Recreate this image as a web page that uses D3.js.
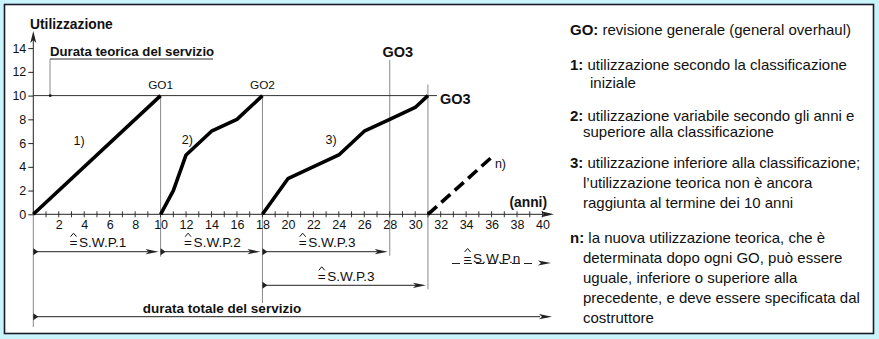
<!DOCTYPE html>
<html>
<head>
<meta charset="utf-8">
<script src="https://cdn.jsdelivr.net/npm/d3@7"></script>
<style>
  html, body { margin: 0; padding: 0; background: #c9f4fc; }
  svg { display: block; }
  text { font-family: "Liberation Sans", Arial, Helvetica, sans-serif; fill: #111; }
</style>
</head>
<body>
<svg id="chart" width="879" height="339"></svg>
<script>
// ---------------- data ----------------
const yTickValues = [0, 2, 4, 6, 8, 10, 12, 14];
const xTickLabels = [2, 4, 6, 8, 10, 12, 14, 16, 18, 20, 22, 24, 26, 28, 30, 32, 34, 36, 38, 40];
const xMinorTicks = d3.range(1, 41);

const curve1 = [[0, 0], [10, 10]];
const curve2 = [[10, 0], [11, 2], [12, 5], [14, 7], [16, 8], [18, 10]];
const curve3 = [[18, 0], [20, 3], [24, 5], [26, 7], [28, 8], [30, 9], [31, 10]];
const curveN = [[31, 0], [36, 4.8]];
const curveNames = ["1)", "2)", "3)", "n)"];

const theoreticalUse = 10;
const goYears = [10, 18, 31];
const goNames = ["GO1", "GO2", "GO3"];
const go3TheoryYear = 28;

const swpNames = ["S.W.P.1", "S.W.P.2", "S.W.P.3", "S.W.P.3"];
const swpFrom = [0, 10, 18, 18];
const swpTo = [10, 18, 28, 31];
const swpRow = [0, 0, 0, 1];

const legendLines = [
  { b: "GO:", t: " revisione generale (general overhaul)" },
  { b: "1:", t: " utilizzazione secondo la classificazione" },
  { b: "", t: "iniziale", indent: 2 },
  { b: "2:", t: " utilizzazione variabile secondo gli anni e" },
  { b: "", t: "superiore alla classificazione", indent: 1 },
  { b: "3:", t: " utilizzazione inferiore alla classificazione;" },
  { b: "", t: "l\u2019utilizzazione teorica non è ancora", indent: 1 },
  { b: "", t: "raggiunta al termine dei 10 anni", indent: 1 },
  { b: "n:", t: " la nuova utilizzazione teorica, che è" },
  { b: "", t: "determinata dopo ogni GO, può essere", indent: 1 },
  { b: "", t: "uguale, inferiore o superiore alla", indent: 1 },
  { b: "", t: "precedente, e deve essere specificata dal", indent: 1 },
  { b: "", t: "costruttore", indent: 1 }
];
const legendBaselines = [35, 70, 88, 121, 137, 168, 188, 208, 243, 263, 283, 303, 323];

// ---------------- layout ----------------
const svg = d3.select("#chart");
const x = d3.scaleLinear().domain([0, 40]).range([33.3, 542.5]);
const y = d3.scaleLinear().domain([0, 10]).range([214.3, 95.6]);
const dark = "#222";
const grey = "#8a8a8a";
const FONT = '"Liberation Sans", Arial, sans-serif';

// panel
svg.append("rect").attr("x", 4.5).attr("y", 4.5).attr("width", 869).attr("height", 329)
  .attr("fill", "#fff").attr("stroke", "#1b1b2b").attr("stroke-width", 1.6);

function arrowRight(g, tx, ty, len, hw) {
  g.append("path").attr("d", `M${tx},${ty} L${tx - len},${ty - hw} L${tx - len + 3},${ty} L${tx - len},${ty + hw} Z`).attr("fill", dark);
}
function tailRight(g, sx, sy) {
  g.append("path").attr("d", `M${sx},${sy - 3.5} L${sx + 5},${sy} L${sx},${sy + 3.5} Z`).attr("fill", dark);
}

const g = svg.append("g");

// lower rows y positions
const rowY = [251.7, 285.3];
const nRowY = 263;
const totalY = 316.7;

// vertical reference lines
g.append("line").attr("x1", x(0)).attr("x2", x(0)).attr("y1", y(0)).attr("y2", 327).attr("stroke", grey);
const goBottoms = [rowY[0] + 5, 303, rowY[1] + 4];
goYears.forEach((yr, i) => {
  g.append("line").attr("x1", x(yr)).attr("x2", x(yr))
    .attr("y1", i === 2 ? y(theoreticalUse) - 11 : y(theoreticalUse)).attr("y2", goBottoms[i])
    .attr("stroke", grey).attr("stroke-width", 1);
});
g.append("line").attr("x1", x(go3TheoryYear)).attr("x2", x(go3TheoryYear))
  .attr("y1", 60).attr("y2", rowY[0] + 4).attr("stroke", grey);

// theoretical use horizontal line
g.append("line").attr("x1", x(0)).attr("x2", x(31) + 9).attr("y1", y(theoreticalUse)).attr("y2", y(theoreticalUse))
  .attr("stroke", "#333").attr("stroke-width", 1);

// Durata teorica del servizio
g.append("text").attr("x", 50).attr("y", 55.5).attr("font-weight", "bold").attr("font-size", 13.2)
  .text("Durata teorica del servizio");
g.append("line").attr("x1", 50).attr("x2", 213).attr("y1", 59).attr("y2", 59).attr("stroke", "#333");
g.append("line").attr("x1", 50).attr("x2", 50).attr("y1", 59).attr("y2", y(theoreticalUse)).attr("stroke", grey);
g.append("rect").attr("x", 49).attr("y", y(theoreticalUse) - 1.2).attr("width", 2.4).attr("height", 2.4).attr("fill", "#111");

// y axis
g.append("line").attr("x1", x(0)).attr("x2", x(0)).attr("y1", y(0)).attr("y2", 40).attr("stroke", dark);
g.append("path").attr("d", `M${x(0)},31 L${x(0) - 3},43 L${x(0)},40 L${x(0) + 3},43 Z`).attr("fill", dark);
const yAxis = d3.axisLeft(y).tickValues(yTickValues).tickSize(5).tickPadding(2);
const ya = g.append("g").attr("transform", `translate(${x(0)},0)`).call(yAxis);
ya.select(".domain").remove();
ya.selectAll(".tick line").attr("stroke", dark);
ya.selectAll(".tick text").attr("font-size", 12.5).attr("fill", "#111").style("font-family", FONT);
g.append("text").attr("x", 30).attr("y", 29).attr("font-weight", "bold").attr("font-size", 13.8).text("Utilizzazione");

// x axis
g.append("line").attr("x1", x(0)).attr("x2", 545).attr("y1", y(0)).attr("y2", y(0)).attr("stroke", dark);
arrowRight(g, 554, y(0), 13, 3);
g.selectAll(".xminor").data(xMinorTicks).join("line").attr("class", "xminor")
  .attr("x1", d => x(d)).attr("x2", d => x(d)).attr("y1", y(0) - 3).attr("y2", y(0) + 3)
  .attr("stroke", dark).attr("stroke-width", 0.9);
const xAxis = d3.axisBottom(x).tickValues(xTickLabels).tickSize(0).tickPadding(6);
const xa = g.append("g").attr("transform", `translate(0,${y(0)})`).call(xAxis);
xa.select(".domain").remove();
xa.selectAll(".tick text").attr("font-size", 12.5).attr("fill", "#111").style("font-family", FONT);
g.append("text").attr("x", 547).attr("y", 206.5).attr("text-anchor", "end").attr("font-weight", "bold").attr("font-size", 13.8).text("(anni)");

// curves
const line = d3.line().x(d => x(d[0])).y(d => y(d[1]));
[curve1, curve2, curve3].forEach(c => {
  g.append("path").attr("d", line(c)).attr("fill", "none").attr("stroke", "#000")
    .attr("stroke-width", 3.6).attr("stroke-linejoin", "round").attr("stroke-linecap", "butt");
});
g.append("path").attr("d", line(curveN)).attr("fill", "none").attr("stroke", "#000")
  .attr("stroke-width", 3.6).attr("stroke-dasharray", "12,6");

// curve labels
const curveLabelPos = [[3.6, 6.2], [12.1, 6.3], [23.4, 6.3], [36.7, 4.3]];
curveNames.forEach((nm, i) => {
  g.append("text").attr("x", x(curveLabelPos[i][0])).attr("y", y(curveLabelPos[i][1]) + 4.5)
    .attr("text-anchor", "middle").attr("font-size", 12.5).text(nm);
});

// GO labels
g.append("text").attr("x", x(goYears[0])).attr("y", 89).attr("text-anchor", "middle").attr("font-size", 11.8).text(goNames[0]);
g.append("text").attr("x", x(goYears[1])).attr("y", 89).attr("text-anchor", "middle").attr("font-size", 11.8).text(goNames[1]);
g.append("text").attr("x", x(go3TheoryYear) + 8).attr("y", 57).attr("text-anchor", "middle").attr("font-weight", "bold").attr("font-size", 14.5).text(goNames[2]);
g.append("text").attr("x", x(goYears[2]) + 12).attr("y", 104).attr("font-weight", "bold").attr("font-size", 14.5).text(goNames[2]);

// estimate symbol (= with caret) + label, as one text; caret drawn as a small path
function estLabel(cx, by, name) {
  const t = g.append("text").attr("x", cx).attr("y", by).attr("text-anchor", "middle").attr("font-size", 13.6);
  t.append("tspan").text("=");
  t.append("tspan").attr("dx", 1.5).text(name);
  const sx = t.node().getStartPositionOfChar(0).x;
  const ex = t.node().getEndPositionOfChar(0).x;
  const mx = (sx + ex) / 2;
  g.append("path").attr("d", `M${mx - 3},${by - 10.5} L${mx},${by - 14} L${mx + 3},${by - 10.5}`)
    .attr("fill", "none").attr("stroke", "#111").attr("stroke-width", 1);
}
swpNames.forEach((nm, i) => {
  const yy = rowY[swpRow[i]];
  const x0 = x(swpFrom[i]), x1 = x(swpTo[i]) - 2;
  g.append("line").attr("x1", x0).attr("x2", x1 - 10).attr("y1", yy).attr("y2", yy).attr("stroke", dark);
  tailRight(g, x0, yy);
  arrowRight(g, x1, yy, 13, 2.6);
  estLabel((x0 + x1) / 2 + 2, yy - 4.5, nm);
});

// S.W.P.n dashed
g.append("line").attr("x1", 452).attr("x2", 533).attr("y1", nRowY + 0.5).attr("y2", nRowY + 0.5)
  .attr("stroke", dark).attr("stroke-dasharray", "8,4");
arrowRight(g, 551, nRowY, 13, 2.6);
estLabel(492, nRowY - 0.5, "S.W.P.n");

// durata totale
g.append("line").attr("x1", x(0)).attr("x2", 540).attr("y1", totalY).attr("y2", totalY).attr("stroke", dark);
tailRight(g, x(0), totalY);
arrowRight(g, 552, totalY, 13, 2.6);
g.append("text").attr("x", 222).attr("y", 313).attr("text-anchor", "middle").attr("font-weight", "bold").attr("font-size", 13.5)
  .text("durata totale del servizio");

// legend
const lg = svg.append("g");
legendLines.forEach((ln, i) => {
  const t = lg.append("text").attr("x", ln.indent === 2 ? 590 : (ln.indent === 1 ? 583 : 570)).attr("y", legendBaselines[i]).attr("font-size", 15);
  if (ln.b) t.append("tspan").attr("font-weight", "bold").text(ln.b);
  t.append("tspan").text(ln.t);
});
</script>
</body>
</html>
